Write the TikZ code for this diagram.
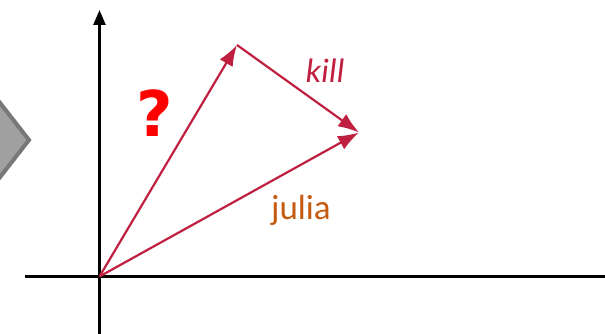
\documentclass[tikz,border=0pt]{standalone}
\usepackage{fontspec}
\setmainfont{Carlito}
\newfontfamily\qfont{DejaVu Sans}
\usetikzlibrary{arrows.meta}
\definecolor{vec}{RGB}{192,32,64}
\definecolor{jul}{RGB}{197,90,17}
\definecolor{chevfill}{RGB}{160,160,160}
\definecolor{chevline}{RGB}{120,120,120}
\tikzset{
  axis/.style={line width=2.6pt, black},
  vecline/.style={line width=2.2pt, vec, -{Latex[length=21pt,width=15pt]}},
  lbl/.style={inner sep=0pt, anchor=base}
}
\begin{document}
\begin{tikzpicture}[x=1pt,y=1pt]
\useasboundingbox (0,0) rectangle (605,334);
\begin{scope}
\clip (0,0) rectangle (605,334);
\draw[line width=4pt, chevline, fill=chevfill, line join=miter]
  (-10,244) -- (29,194) -- (-10,144) -- cycle;
\end{scope}
\coordinate (ybot) at (99.5,0);
\coordinate (ytop) at (99.5,324);
\coordinate (xl) at (25,57.5);
\coordinate (xr) at (605,57.5);
\coordinate (O) at (99.5,57.5);
\coordinate (A) at (237,289);
\coordinate (B) at (359,201.5);
\draw[axis] (xl) -- (xr);
\draw[axis, -{Triangle[length=15pt,width=12pt]}] (ybot) -- (ytop);
\draw[vecline] (O) -- (A);
\draw[vecline] (A) -- (B);
\draw[vecline] (O) -- (B);
\node[lbl, text=vec, font=\fontsize{34}{36}\selectfont\itshape] (kill) at (325,251) {kill};
\node[lbl, text=jul, font=\fontsize{35}{37}\selectfont] (julia) at (301,114) {julia};
\node[lbl, text=red, font=\qfont\bfseries\fontsize{63}{65}\selectfont] (q) at (155,197) {?};
\end{tikzpicture}
\end{document}
